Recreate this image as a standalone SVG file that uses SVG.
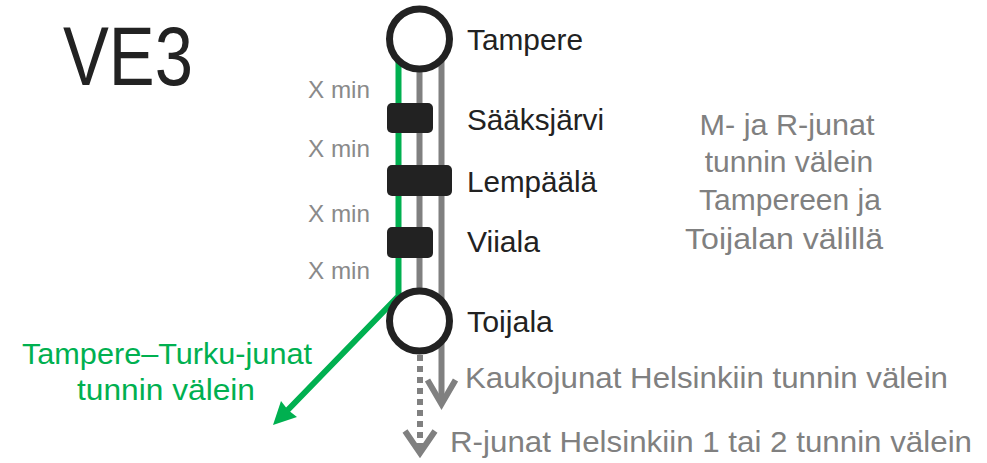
<svg xmlns="http://www.w3.org/2000/svg" width="987" height="463" viewBox="0 0 987 463">
<style>
text{font-family:"Liberation Sans",Arial,sans-serif}
.lbl{font-size:30px;fill:#222}
.gr{font-size:30px;fill:#808080}
.xm{font-size:24px;fill:#8a8a8a}
.gn{font-size:30px;fill:#00b050}
.st{fill:#fff;stroke:#222;stroke-width:7}
.blk{fill:#222}
.gl{stroke:#808080;stroke-width:6;fill:none}
</style>
<rect width="987" height="463" fill="#fff"/>
<text x="63" y="85" style="font-size:84px;fill:#222" textLength="130" lengthAdjust="spacingAndGlyphs">VE3</text>
<g id="connectors">
<polyline points="398.5,40 398.5,296 280,418" fill="none" stroke="#00b050" stroke-width="6"/>
<path d="M273,425 L281,401 L288,410 L297,417 Z" fill="#00b050"/>
<line class="gl" x1="419.5" y1="40" x2="419.5" y2="320"/>
<line class="gl" x1="441.5" y1="40" x2="441.5" y2="404"/>
<polyline class="gl" points="427.5,380 441.5,404 455.5,380"/>
<line class="gl" x1="420" y1="355" x2="420" y2="450" stroke-dasharray="6 5"/>
<polyline class="gl" points="405,431 420,453 435,431"/>
</g>
<g id="tampere"><circle class="st" cx="419.5" cy="39" r="30"/><text class="lbl" x="467" y="50" textLength="116" lengthAdjust="spacingAndGlyphs">Tampere</text></g>
<g id="saaksjarvi"><rect class="blk" x="387" y="103" width="46" height="30" rx="5"/><text class="lbl" x="467" y="130" textLength="137" lengthAdjust="spacingAndGlyphs">Sääksjärvi</text></g>
<g id="lempaala"><rect class="blk" x="387" y="165" width="65" height="31" rx="5"/><text class="lbl" x="467" y="192" textLength="130" lengthAdjust="spacingAndGlyphs">Lempäälä</text></g>
<g id="viiala"><rect class="blk" x="387" y="227" width="46" height="31" rx="5"/><text class="lbl" x="467" y="252" textLength="73" lengthAdjust="spacingAndGlyphs">Viiala</text></g>
<g id="toijala"><circle class="st" cx="419.5" cy="321" r="30"/><text class="lbl" x="467" y="332" textLength="86" lengthAdjust="spacingAndGlyphs">Toijala</text></g>
<g id="times">
<text class="xm" x="308" y="98" textLength="62" lengthAdjust="spacingAndGlyphs">X min</text>
<text class="xm" x="308" y="157" textLength="62" lengthAdjust="spacingAndGlyphs">X min</text>
<text class="xm" x="308" y="222" textLength="62" lengthAdjust="spacingAndGlyphs">X min</text>
<text class="xm" x="308" y="279" textLength="62" lengthAdjust="spacingAndGlyphs">X min</text>
</g>
<g id="note" text-anchor="middle">
<text class="gr" x="787" y="135" textLength="175" lengthAdjust="spacingAndGlyphs">M- ja R-junat</text>
<text class="gr" x="789" y="172">tunnin välein</text>
<text class="gr" x="790" y="210">Tampereen ja</text>
<text class="gr" x="784" y="249" textLength="198" lengthAdjust="spacingAndGlyphs">Toijalan välillä</text>
</g>
<g id="turku">
<text class="gn" x="22" y="364" textLength="290" lengthAdjust="spacingAndGlyphs">Tampere–Turku-junat</text>
<text class="gn" x="77" y="400" textLength="178" lengthAdjust="spacingAndGlyphs">tunnin välein</text>
</g>
<g id="kauko"><text class="gr" x="465" y="388" textLength="483" lengthAdjust="spacingAndGlyphs">Kaukojunat Helsinkiin tunnin välein</text></g>
<g id="rjunat"><text class="gr" x="450" y="452" textLength="522" lengthAdjust="spacingAndGlyphs">R-junat Helsinkiin 1 tai 2 tunnin välein</text></g>
</svg>
